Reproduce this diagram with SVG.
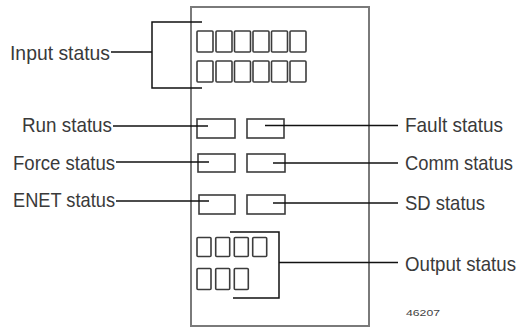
<svg xmlns="http://www.w3.org/2000/svg" width="522" height="329" viewBox="0 0 522 329">
<style>
.lbl{font-family:"Liberation Sans",Arial,sans-serif;font-size:18px;fill:#3a3a3a}
.num{font-family:"Liberation Sans",Arial,sans-serif;font-size:9px;fill:#444}
.led{fill:none;stroke:#3c3c3c;stroke-width:1.6}
.ln{fill:none;stroke:#111;stroke-width:1.5}
.box{fill:#fff;stroke:#7a7a7a;stroke-width:2}
</style>
<rect width="522" height="329" fill="#fff"/>
<g id="module">
<rect class="box" x="191" y="7" width="178" height="319"/>
</g>
<g id="input-leds">
<rect class="led" x="197" y="31" width="16" height="21" rx="1"/>
<rect class="led" x="216" y="31" width="16" height="21" rx="1"/>
<rect class="led" x="234.5" y="31" width="16" height="21" rx="1"/>
<rect class="led" x="253" y="31" width="16" height="21" rx="1"/>
<rect class="led" x="271.5" y="31" width="16" height="21" rx="1"/>
<rect class="led" x="290" y="31" width="16" height="21" rx="1"/>
<rect class="led" x="197" y="61" width="16" height="21" rx="1"/>
<rect class="led" x="216" y="61" width="16" height="21" rx="1"/>
<rect class="led" x="234.5" y="61" width="16" height="21" rx="1"/>
<rect class="led" x="253" y="61" width="16" height="21" rx="1"/>
<rect class="led" x="271.5" y="61" width="16" height="21" rx="1"/>
<rect class="led" x="290" y="61" width="16" height="21" rx="1"/>
</g>
<g id="run-led"><rect class="led" x="197" y="119" width="38" height="19"/></g>
<g id="fault-led"><rect class="led" x="247" y="119" width="37" height="19"/></g>
<g id="force-led"><rect class="led" x="198" y="154" width="37" height="18"/></g>
<g id="comm-led"><rect class="led" x="247" y="154" width="38" height="18"/></g>
<g id="enet-led"><rect class="led" x="199" y="195" width="36" height="19"/></g>
<g id="sd-led"><rect class="led" x="247" y="195" width="38" height="19"/></g>
<g id="output-leds">
<rect class="led" x="197" y="237.5" width="14" height="19" rx="1"/>
<rect class="led" x="215.7" y="237.5" width="14" height="19" rx="1"/>
<rect class="led" x="234.3" y="237.5" width="14" height="19" rx="1"/>
<rect class="led" x="252.7" y="237.5" width="14" height="19" rx="1"/>
<rect class="led" x="197" y="268.5" width="14" height="21" rx="1"/>
<rect class="led" x="215.7" y="268.5" width="14" height="21" rx="1"/>
<rect class="led" x="234.3" y="268.5" width="14" height="21" rx="1"/>
</g>
<g id="connectors">
<polyline class="ln" points="202,22 152,22 152,88 202,88"/>
<line class="ln" x1="111" y1="52" x2="152" y2="52"/>
<line class="ln" x1="113" y1="126" x2="208" y2="126"/>
<line class="ln" x1="265" y1="125.5" x2="398" y2="125.5"/>
<line class="ln" x1="116" y1="162" x2="209" y2="162"/>
<line class="ln" x1="273" y1="163" x2="398" y2="163"/>
<line class="ln" x1="116" y1="201" x2="209" y2="201"/>
<line class="ln" x1="273" y1="203" x2="398" y2="203"/>
<polyline class="ln" points="230,232 279,232 279,298 233,298"/>
<line class="ln" x1="279" y1="262.5" x2="398" y2="262.5"/>
</g>
<g id="labels">
<text class="lbl" transform="translate(10,59.5) scale(1,1.15)" textLength="100" lengthAdjust="spacingAndGlyphs">Input status</text>
<text class="lbl" transform="translate(22,131.5) scale(1,1.15)" textLength="90" lengthAdjust="spacingAndGlyphs">Run status</text>
<text class="lbl" transform="translate(13,169.5) scale(1,1.15)" textLength="102" lengthAdjust="spacingAndGlyphs">Force status</text>
<text class="lbl" transform="translate(13,206.5) scale(1,1.15)" textLength="102" lengthAdjust="spacingAndGlyphs">ENET status</text>
<text class="lbl" transform="translate(405,131.5) scale(1,1.15)" textLength="98" lengthAdjust="spacingAndGlyphs">Fault status</text>
<text class="lbl" transform="translate(405,169.5) scale(1,1.15)" textLength="108" lengthAdjust="spacingAndGlyphs">Comm status</text>
<text class="lbl" transform="translate(405,209.5) scale(1,1.15)" textLength="80" lengthAdjust="spacingAndGlyphs">SD status</text>
<text class="lbl" transform="translate(405,270.5) scale(1,1.15)" textLength="111" lengthAdjust="spacingAndGlyphs">Output status</text>
<text class="num" x="406" y="316" textLength="34" lengthAdjust="spacingAndGlyphs">46207</text>
</g>
</svg>
